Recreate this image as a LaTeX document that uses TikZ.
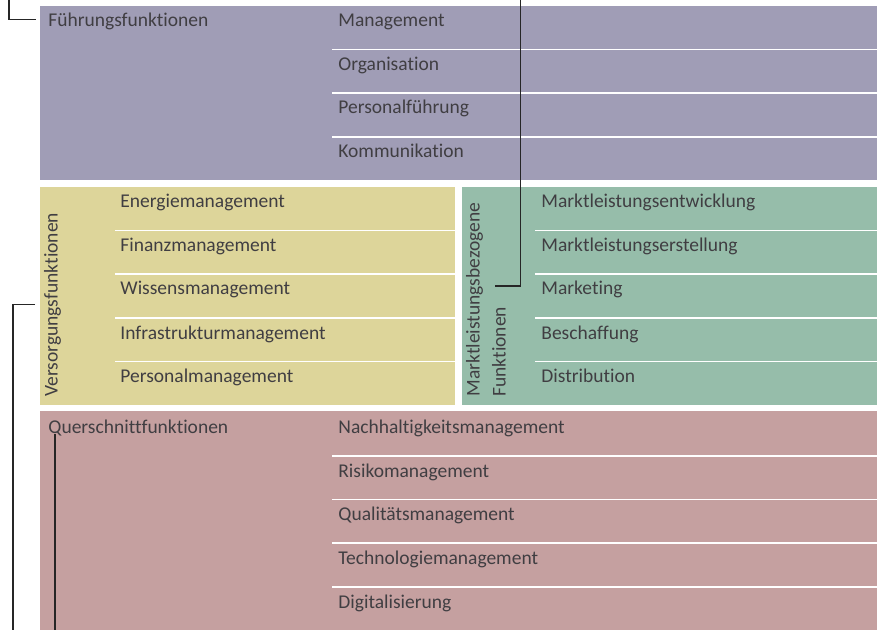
\documentclass[tikz,border=0pt]{standalone}
\usepackage{fontspec}
\setmainfont{Carlito}[Ligatures={NoCommon}]
\usepackage{tikz}

\definecolor{fuehrung}{RGB}{160,157,182}
\definecolor{versorgung}{RGB}{221,213,154}
\definecolor{marktl}{RGB}{150,189,170}
\definecolor{quer}{RGB}{197,160,160}
\definecolor{schrift}{RGB}{64,62,66}

\begin{document}
\begin{tikzpicture}[x=0.5pt,y=-0.5pt]
\tikzstyle{every node}=[inner sep=0pt, anchor=base west, text=schrift, font=\fontsize{9.75pt}{11pt}\selectfont]
\tikzstyle{sep}=[white, line width=0.65pt]
\tikzstyle{leader}=[black!85, line width=0.65pt]
\tikzstyle{vert}=[rotate=90, anchor=base west]
\useasboundingbox (0,0) rectangle (882,630);

\fill[fuehrung] (40,6) rectangle (877,180.5);
\fill[versorgung] (40,187) rectangle (455,405);
\fill[marktl] (462,187) rectangle (877,405);
\fill[quer] (40,411) rectangle (877,630);

\draw[sep] (332,49.5) -- (877,49.5);
\draw[sep] (332,93) -- (877,93);
\draw[sep] (332,137) -- (877,137);
\draw[sep] (115,230.5) -- (455,230.5);
\draw[sep] (115,274) -- (455,274);
\draw[sep] (115,318) -- (455,318);
\draw[sep] (115,361.5) -- (455,361.5);
\draw[sep] (535,230.5) -- (877,230.5);
\draw[sep] (535,274) -- (877,274);
\draw[sep] (535,318) -- (877,318);
\draw[sep] (535,361.5) -- (877,361.5);
\draw[sep] (332,456) -- (877,456);
\draw[sep] (332,499.5) -- (877,499.5);
\draw[sep] (332,543) -- (877,543);
\draw[sep] (332,587) -- (877,587);

\draw (48,27) node (fuehr) {Führungsfunktionen};
\draw (338,27) node (f1) {Management};
\draw (338,70.5) node (f2) {Organisation};
\draw (338,114) node (f3) {Personalführung};
\draw (338,158) node (f4) {Kommunikation};

\draw (57.5,397) node (vers) [vert] {Versorgungsfunktionen};
\draw (120,208) node (v1) {Energiemanagement};
\draw (120,251.5) node (v2) {Finanzmanagement};
\draw (120,295) node (v3) {Wissensmanagement};
\draw (120,339) node (v4) {Infrastrukturmanagement};
\draw (120,382.5) node (v5) {Personalmanagement};

\draw (479.5,397) node (mark) [vert] {Marktleistungsbezogene};
\draw (505.5,397) node (funk) [vert] {Funktionen};
\draw (541,208) node (m1) {Marktleistungsentwicklung};
\draw (541,251.5) node (m2) {Marktleistungserstellung};
\draw (541,295) node (m3) {Marketing};
\draw (541,339) node (m4) {Beschaffung};
\draw (541,382.5) node (m5) {Distribution};

\draw (48,433) node (quers) {Querschnittfunktionen};
\draw (338,433) node (q1) {Nachhaltigkeitsmanagement};
\draw (338,477) node (q2) {Risikomanagement};
\draw (338,520.5) node (q3) {Qualitätsmanagement};
\draw (338,564) node (q4) {Technologiemanagement};
\draw (338,608) node (q5) {Digitalisierung};

\coordinate (fa) at (9,0);
\coordinate (fb) at (36,19.5);
\coordinate (ma) at (520.5,0);
\coordinate (mb) at (495,286);
\coordinate (va) at (35,304.5);
\coordinate (vb) at (13,630);
\coordinate (qa) at (55,434);
\coordinate (qb) at (55,630);
\draw[leader] (fa) |- (fb);
\draw[leader] (ma) |- (mb);
\draw[leader] (va) -| (vb);
\draw[leader] (qa) -- (qb);
\end{tikzpicture}
\end{document}
